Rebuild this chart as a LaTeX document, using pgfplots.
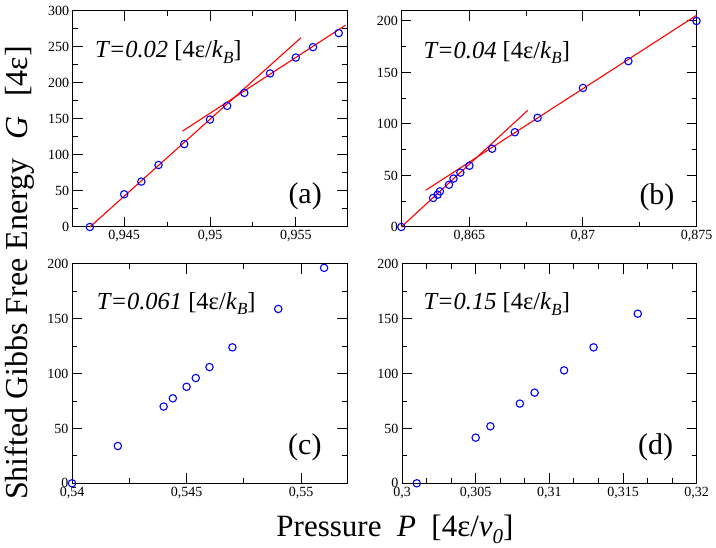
\documentclass[border=0pt]{standalone}
\usepackage{fontspec}
\setmainfont{Liberation Serif}
\usepackage{pgfplots}
\pgfplotsset{compat=1.18}
\pgfplotsset{
 panel/.style={scale only axis, anchor=south west, clip=false,
   axis line style={line width=1pt}, tick style={line width=1pt, black},
   major tick length=10pt, minor tick length=5pt,
   minor x tick num=1, minor y tick num=1,
   tick label style={font=\fontsize{14}{14}\selectfont},
   /pgf/number format/assume math mode=true, scaled ticks=false, ymin=0},
 pts/.style={only marks, mark=o, blue, mark size=3.7pt, mark options={line width=1.1pt}},
 fit/.style={red, line width=1.1pt, no marks},
}
\newcommand{\kB}{\textit{k}\raisebox{-0.45ex}{\fontsize{17}{17}\selectfont\textit{B}}}
\begin{document}
\begin{tikzpicture}[x=1pt,y=1pt]
\path[use as bounding box] (0,0) rectangle (716,-548);
% (a)
\begin{axis}[panel, at={(72.7pt,-227pt)}, width=274.6pt, height=216.3pt,
  xmin=0.942, xmax=0.958, ymax=300,
  xtick={0.945,0.95,0.955}, xticklabels={{0,945},{0,95},{0,955}},
  ytick={0,50,100,150,200,250,300}]
\addplot[fit] coordinates {(0.943,0) (0.9553,262.5)};
\addplot[fit] coordinates {(0.9484,133) (0.9579,280)};
\addplot[pts] coordinates {(0.943,0) (0.945,45.4) (0.946,63) (0.947,86) (0.9485,115) (0.95,149) (0.951,168) (0.952,186) (0.9535,213) (0.955,235) (0.956,249.5) (0.9575,269)};
\end{axis}
% (b)
\begin{axis}[panel, at={(401.3pt,-227pt)}, width=295.2pt, height=216.3pt,
  xmin=0.862, xmax=0.875, ymax=210,
  xtick={0.865,0.87,0.875}, xticklabels={{0,865},{0,87},{0,875}},
  ytick={0,50,100,150,200}]
\addplot[fit] coordinates {(0.862,0) (0.86757,113.3)};
\addplot[fit] coordinates {(0.86307,35.6) (0.875,205.5)};
\addplot[pts] coordinates {(0.862,0) (0.8634,28.2) (0.8636,31.4) (0.8637,34.6) (0.8641,41) (0.8643,47) (0.8646,52.8) (0.865,59.5) (0.866,76) (0.867,92) (0.868,106) (0.87,135) (0.872,161) (0.875,200)};
\end{axis}
% (c)
\begin{axis}[panel, at={(72pt,-483.3pt)}, width=275pt, height=219.3pt,
  xmin=0.54, xmax=0.552, ymax=200,
  xtick={0.54,0.545,0.55}, xticklabels={{0,54},{0,545},{0,55}},
  ytick={0,50,100,150,200}]
\addplot[pts] coordinates {(0.54,0) (0.542,34) (0.544,70) (0.5444,77.5) (0.545,88) (0.5454,96) (0.546,106) (0.547,124) (0.549,159) (0.551,196.5)};
\end{axis}
% (d)
\begin{axis}[panel, at={(402pt,-483.3pt)}, width=294.7pt, height=219.3pt,
  xmin=0.3, xmax=0.32, ymax=200, minor x tick num=2,
  xtick={0.3,0.305,0.31,0.315,0.32}, xticklabels={{0,3},{0,305},{0,31},{0,315},{0,32}},
  ytick={0,50,100,150,200}]
\addplot[pts] coordinates {(0.301,0) (0.305,41.6) (0.306,52) (0.308,72.7) (0.309,82.7) (0.311,103) (0.313,124) (0.316,154.7)};
\end{axis}
% annotations
\begin{scope}[every node/.style={inner sep=0pt, anchor=base west}]
\node[font=\fontsize{24.5}{24.5}\selectfont] at (95,-58) {\textit{T=0.02} [4ε/\kB]};
\node[font=\fontsize{24.5}{24.5}\selectfont] at (423.3,-58.3) {\textit{T=0.04} [4ε/\kB]};
\node[font=\fontsize{24.5}{24.5}\selectfont] at (96.7,-309.3) {\textit{T=0.061} [4ε/\kB]};
\node[font=\fontsize{24.5}{24.5}\selectfont] at (423.3,-310) {\textit{T=0.15} [4ε/\kB]};
\node[font=\fontsize{30}{30}\selectfont] at (288.3,-203.3) {(a)};
\node[font=\fontsize{30}{30}\selectfont] at (639.3,-205) {(b)};
\node[font=\fontsize{30}{30}\selectfont] at (288,-455) {(c)};
\node[font=\fontsize{30}{30}\selectfont] at (638,-455) {(d)};
\end{scope}
\node[font=\fontsize{32}{32}\selectfont, rotate=90, inner sep=0pt] at (20,-273) {Shifted Gibbs Free Energy\hspace{0.6em}\textit{G}\hspace{0.6em}[4ε]};
\node[font=\fontsize{31}{31}\selectfont, inner sep=0pt, anchor=base] at (395,-536.7) {Pressure\hspace{0.5em}\textit{P}\hspace{0.5em}[4ε/\textit{v}\raisebox{-0.45ex}{\fontsize{21}{21}\selectfont\textit{0}}]};
\end{tikzpicture}
\end{document}
